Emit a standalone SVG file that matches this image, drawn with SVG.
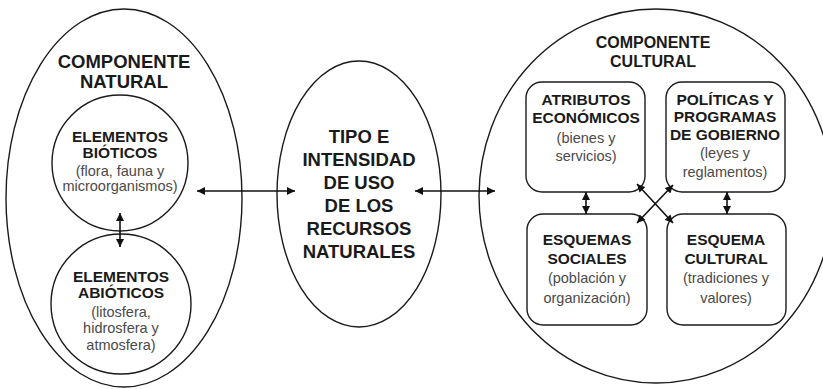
<svg xmlns="http://www.w3.org/2000/svg" width="823" height="389" viewBox="0 0 823 389">
  <style>
    .shape { fill: none; stroke: #1a1a1a; stroke-width: 1.4; }
    .box { fill: #fff; stroke: #1a1a1a; stroke-width: 1.4; }
    .link { stroke: #111; stroke-width: 1.6; fill: none; marker-start: url(#head); marker-end: url(#head); }
    text { font-family: "Liberation Sans", Arial, sans-serif; text-anchor: middle; }
    .t-big { font-size: 18.5px; font-weight: bold; fill: #1a1a1a; }
    .t-title { font-size: 16px; font-weight: bold; fill: #1a1a1a; }
    .t-head { font-size: 15.5px; font-weight: bold; fill: #1a1a1a; }
    .t-note { font-size: 14.5px; fill: #4a4a4a; }
  </style>
  <defs>
    <marker id="head" markerUnits="userSpaceOnUse" markerWidth="9" markerHeight="8" refX="8" refY="4" orient="auto-start-reverse">
      <path d="M0,0 L8,4 L0,8 z" fill="#111"/>
    </marker>
  </defs>

  <rect width="823" height="389" fill="#fff"/>

  <!-- natural component -->
  <g id="componente-natural">
    <ellipse class="shape" cx="124" cy="198" rx="118" ry="189"/>
    <text class="t-big" x="124" y="68">COMPONENTE</text>
    <text class="t-big" x="124" y="88">NATURAL</text>
  </g>

  <g id="elementos-bioticos">
    <circle class="shape" cx="120" cy="163" r="68"/>
    <text class="t-head" x="120" y="142">ELEMENTOS</text>
    <text class="t-head" x="120" y="158">BIÓTICOS</text>
    <text class="t-note" x="120" y="176">(flora, fauna y</text>
    <text class="t-note" x="120" y="191">microorganismos)</text>
  </g>

  <g id="elementos-abioticos">
    <circle class="shape" cx="121" cy="304" r="70"/>
    <text class="t-head" x="121" y="282">ELEMENTOS</text>
    <text class="t-head" x="121" y="298">ABIÓTICOS</text>
    <text class="t-note" x="121" y="317">(litosfera,</text>
    <text class="t-note" x="121" y="333">hidrosfera y</text>
    <text class="t-note" x="121" y="350">atmosfera)</text>
  </g>

  <!-- central node -->
  <g id="tipo-intensidad">
    <ellipse class="shape" cx="359" cy="194" rx="82" ry="133"/>
    <text class="t-big" x="359" y="143">TIPO E</text>
    <text class="t-big" x="359" y="166">INTENSIDAD</text>
    <text class="t-big" x="359" y="189">DE USO</text>
    <text class="t-big" x="359" y="212">DE LOS</text>
    <text class="t-big" x="359" y="235">RECURSOS</text>
    <text class="t-big" x="359" y="258">NATURALES</text>
  </g>

  <!-- cultural component -->
  <g id="componente-cultural">
    <ellipse class="shape" cx="656" cy="196" rx="177" ry="187"/>
    <text class="t-title" x="653" y="48">COMPONENTE</text>
    <text class="t-title" x="653" y="67">CULTURAL</text>
  </g>

  <g id="atributos-economicos">
    <rect class="box" x="526" y="82" width="119" height="110" rx="16"/>
    <text class="t-head" x="586" y="105">ATRIBUTOS</text>
    <text class="t-head" x="586" y="123">ECONÓMICOS</text>
    <text class="t-note" x="586" y="143">(bienes y</text>
    <text class="t-note" x="586" y="161">servicios)</text>
  </g>

  <g id="politicas-programas">
    <rect class="box" x="666" y="82" width="119" height="110" rx="16"/>
    <text class="t-head" x="725" y="105">POLÍTICAS Y</text>
    <text class="t-head" x="725" y="122">PROGRAMAS</text>
    <text class="t-head" x="725" y="140">DE GOBIERNO</text>
    <text class="t-note" x="725" y="158">(leyes y</text>
    <text class="t-note" x="725" y="177">reglamentos)</text>
  </g>

  <g id="esquemas-sociales">
    <rect class="box" x="527" y="214" width="120" height="111" rx="16"/>
    <text class="t-head" x="587" y="245">ESQUEMAS</text>
    <text class="t-head" x="587" y="264">SOCIALES</text>
    <text class="t-note" x="587" y="283">(población y</text>
    <text class="t-note" x="587" y="303">organización)</text>
  </g>

  <g id="esquema-cultural">
    <rect class="box" x="667" y="214" width="119" height="111" rx="16"/>
    <text class="t-head" x="726" y="245">ESQUEMA</text>
    <text class="t-head" x="726" y="264">CULTURAL</text>
    <text class="t-note" x="726" y="283">(tradiciones y</text>
    <text class="t-note" x="726" y="303">valores)</text>
  </g>

  <!-- connectors -->
  <g id="conectores">
    <line class="link" x1="120" y1="213" x2="120" y2="247"/>
    <line class="link" x1="197" y1="191" x2="295" y2="191"/>
    <line class="link" x1="415" y1="191" x2="495" y2="191"/>
    <line class="link" x1="586" y1="192" x2="586" y2="214"/>
    <line class="link" x1="727" y1="192" x2="727" y2="214"/>
    <line class="link" x1="637" y1="184" x2="673" y2="223"/>
    <line class="link" x1="673" y1="185" x2="637" y2="223"/>
  </g>
</svg>
